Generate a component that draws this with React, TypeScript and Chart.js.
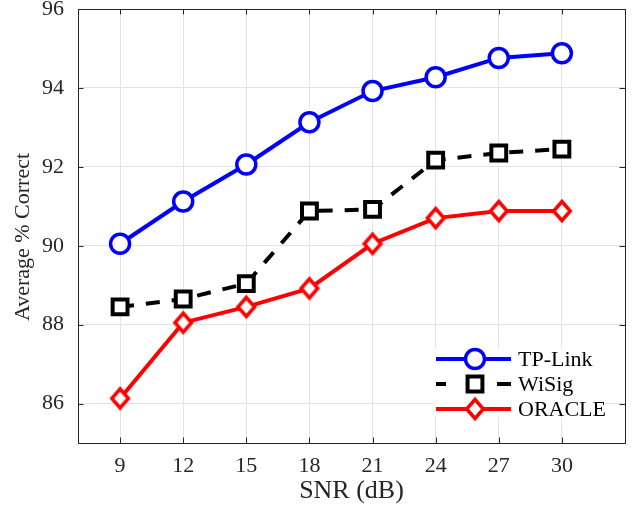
import React, { useEffect, useRef } from 'react';
import { Chart, registerables } from 'chart.js';

Chart.register(...registerables);

const snr = [9, 12, 15, 18, 21, 24, 27, 30];
const tpLink = [90.05, 91.12, 92.06, 93.13, 93.92, 94.27, 94.76, 94.88];
const wiSig = [88.45, 88.65, 89.04, 90.88, 90.92, 92.17, 92.35, 92.45];
const oracle = [86.13, 88.05, 88.45, 88.92, 90.05, 90.7, 90.88, 90.88];
const xTicks = [9, 12, 15, 18, 21, 24, 27, 30];
const yTicks = [86, 88, 90, 92, 94, 96];
const seriesNames = ['TP-Link', 'WiSig', 'ORACLE'];

const FONT = "'Liberation Serif', 'Times New Roman', serif";
const AXIS = '#262626';

function makeDiamond(): HTMLCanvasElement {
  const c = document.createElement('canvas');
  c.width = 30;
  c.height = 32;
  const g = c.getContext('2d')!;
  const cx = 15;
  const cy = 16;
  g.beginPath();
  g.moveTo(cx, cy - 9.5);
  g.lineTo(cx + 8.3, cy);
  g.lineTo(cx, cy + 9.5);
  g.lineTo(cx - 8.3, cy);
  g.closePath();
  g.fillStyle = '#fff';
  g.fill();
  g.lineWidth = 3.5;
  g.lineJoin = 'miter';
  g.miterLimit = 10;
  g.strokeStyle = '#ff0000';
  g.stroke();
  return c;
}

const zeroPad = (s: any) => {
  s.paddingTop = 0;
  s.paddingBottom = 0;
  s.paddingLeft = 0;
  s.paddingRight = 0;
};

const framePlugin = {
  id: 'frame',
  beforeDatasetsDraw(chart: any) {
    const { ctx, chartArea, scales } = chart;
    const { left, right, top, bottom } = chartArea;
    ctx.save();
    ctx.strokeStyle = AXIS;
    ctx.lineWidth = 1;
    ctx.beginPath();
    const tl = 5.5;
    xTicks.forEach((v) => {
      const px = Math.round(scales.x.getPixelForValue(v)) + 0.5;
      ctx.moveTo(px, bottom);
      ctx.lineTo(px, bottom - tl);
      ctx.moveTo(px, top);
      ctx.lineTo(px, top + tl);
    });
    yTicks.forEach((v) => {
      const py = Math.round(scales.y.getPixelForValue(v)) + 0.5;
      ctx.moveTo(left, py);
      ctx.lineTo(left + tl, py);
      ctx.moveTo(right, py);
      ctx.lineTo(right - tl, py);
    });
    ctx.stroke();
    ctx.strokeRect(Math.round(left) + 0.5, Math.round(top) + 0.5, Math.round(right - left), Math.round(bottom - top));
    ctx.restore();
  },
};

const legendPlugin = {
  id: 'insideLegend',
  afterDatasetsDraw(chart: any) {
    const { ctx, chartArea } = chart;
    const r = chartArea.right;
    const b = chartArea.bottom;
    ctx.save();
    ctx.fillStyle = '#fff';
    ctx.fillRect(r - 193, b - 94, 174, 68);
    const x0 = r - 189;
    const x1 = r - 114;
    const xm = r - 150;
    const xt = r - 107;
    chart.data.datasets.forEach((ds: any, i: number) => {
      const y = b - 84 + i * 25;
      ctx.strokeStyle = ds.borderColor;
      ctx.lineWidth = ds.borderWidth;
      ctx.setLineDash([]);
      ctx.beginPath();
      if (ds.borderDash && ds.borderDash.length) {
        ctx.moveTo(x0, y);
        ctx.lineTo(x0 + 10, y);
        ctx.moveTo(x1 - 14, y);
        ctx.lineTo(x1, y);
      } else {
        ctx.moveTo(x0, y);
        ctx.lineTo(x1, y);
      }
      ctx.stroke();
      const ps = ds.pointStyle;
      ctx.fillStyle = '#fff';
      ctx.strokeStyle = ds.pointBorderColor;
      ctx.lineWidth = ds.pointBorderWidth;
      if (ps === 'circle') {
        ctx.beginPath();
        ctx.arc(xm, y, ds.pointRadius, 0, Math.PI * 2);
        ctx.fill();
        ctx.stroke();
      } else if (ps === 'rect') {
        const s = ds.pointRadius * Math.SQRT1_2;
        ctx.beginPath();
        ctx.rect(xm - s, y - s, 2 * s, 2 * s);
        ctx.fill();
        ctx.stroke();
      } else if (ps && ps.width) {
        ctx.drawImage(ps, xm - ps.width / 2, y - ps.height / 2);
      }
      ctx.fillStyle = '#000';
      ctx.font = `22px ${FONT}`;
      ctx.textAlign = 'left';
      ctx.textBaseline = 'middle';
      ctx.fillText(ds.label, xt, y + 1);
    });
    ctx.restore();
  },
};

export default function App() {
  const ref = useRef<HTMLCanvasElement | null>(null);

  useEffect(() => {
    if (!ref.current) return;
    const diamond = makeDiamond();
    const toPts = (arr: number[]) => arr.map((v, i) => ({ x: snr[i], y: v }));
    const chart = new Chart(ref.current, {
      type: 'line',
      data: {
        datasets: [
          {
            label: seriesNames[0],
            data: toPts(tpLink),
            borderColor: '#0000ff',
            borderWidth: 4,
            pointStyle: 'circle',
            pointRadius: 9.5,
            pointBorderWidth: 3.5,
            pointBorderColor: '#0000ff',
            pointBackgroundColor: '#ffffff',
            tension: 0,
            order: 3,
          } as any,
          {
            label: seriesNames[1],
            data: toPts(wiSig),
            borderColor: '#000000',
            borderWidth: 4,
            borderDash: [14, 12],
            pointStyle: 'rect',
            pointRadius: 10.5,
            pointBorderWidth: 4,
            pointBorderColor: '#000000',
            pointBackgroundColor: '#ffffff',
            tension: 0,
            order: 2,
          } as any,
          {
            label: seriesNames[2],
            data: toPts(oracle),
            borderColor: '#ff0000',
            borderWidth: 4,
            pointStyle: diamond,
            pointRadius: 10,
            pointBorderWidth: 3.5,
            pointBorderColor: '#ff0000',
            pointBackgroundColor: '#ffffff',
            tension: 0,
            order: 1,
          } as any,
        ],
      },
      options: {
        animation: false,
        responsive: false,
        maintainAspectRatio: false,
        layout: { autoPadding: false, padding: { left: 0, right: 7, top: 9, bottom: 0 } },
        plugins: { legend: { display: false }, tooltip: { enabled: false } },
        scales: {
          x: {
            type: 'linear',
            min: 7,
            max: 33,
            afterBuildTicks: (axis: any) => {
              axis.ticks = xTicks.map((v) => ({ value: v }));
            },
            afterFit: (s: any) => {
              s.height = 65;
              zeroPad(s);
            },
            ticks: {
              font: { family: FONT, size: 22 },
              color: AXIS,
              padding: 10,
              maxRotation: 0,
              autoSkip: false,
              callback: (v: any) => String(v),
            },
            grid: { color: '#e3e3e3', lineWidth: 1, drawTicks: false },
            border: { display: false },
            title: {
              display: true,
              text: 'SNR (dB)',
              font: { family: FONT, size: 26 },
              color: AXIS,
              padding: { top: 0, bottom: 1 },
            },
          },
          y: {
            type: 'linear',
            min: 85,
            max: 96,
            afterBuildTicks: (axis: any) => {
              axis.ticks = yTicks.map((v) => ({ value: v }));
            },
            afterFit: (s: any) => {
              s.width = 78;
              zeroPad(s);
            },
            ticks: {
              font: { family: FONT, size: 22, lineHeight: 0.8 },
              color: AXIS,
              padding: 14,
              callback: (v: any) => String(v),
            },
            grid: { color: '#e3e3e3', lineWidth: 1, drawTicks: false },
            border: { display: false },
            title: {
              display: true,
              text: 'Average % Correct    ',
              font: { family: FONT, size: 22 },
              color: AXIS,
              padding: { top: 10, bottom: 0 },
            },
          },
        },
      },
      plugins: [framePlugin, legendPlugin],
    });
    return () => chart.destroy();
  }, []);

  return (
    <div style={{ position: 'absolute', left: 0, top: 0, width: 632, height: 508, background: '#fff' }}>
      <canvas ref={ref} width={632} height={508} style={{ display: 'block' }} />
    </div>
  );
}
